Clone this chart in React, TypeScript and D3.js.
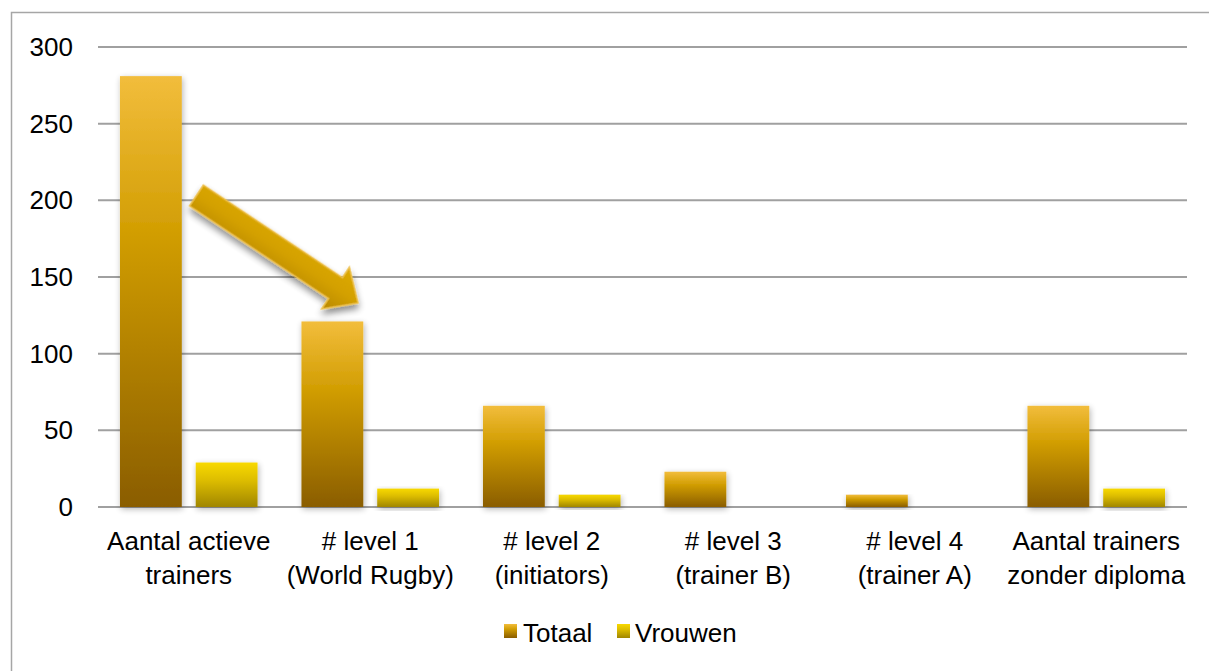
import React from "react";
import * as d3 from "d3";

// Trainer counts per qualification level
const categories: string[][] = [
  ["Aantal actieve", "trainers"],
  ["# level 1", "(World Rugby)"],
  ["# level 2", "(initiators)"],
  ["# level 3", "(trainer B)"],
  ["# level 4", "(trainer A)"],
  ["Aantal trainers", "zonder diploma"],
];
const seriesNames = ["Totaal", "Vrouwen"];
const totaal = [281, 121, 66, 23, 8, 66];
const vrouwen = [29, 12, 8, 0, 0, 12];
const yTicks = [0, 50, 100, 150, 200, 250, 300];

const W = 1209;
const H = 671;
const plot = { left: 98, right: 1187, top: 47, bottom: 507 };
const FONT = "'Liberation Sans', Arial, Helvetica, sans-serif";

export default function App() {
  const keys = categories.map((c) => c.join(" "));
  const x0 = d3.scaleBand<string>().domain(keys).range([plot.left, plot.right]).padding(0);
  const x1 = d3
    .scaleBand<string>()
    .domain(seriesNames)
    .range([0, x0.bandwidth()])
    .paddingInner(0.184)
    .paddingOuter(0.29);
  const y = d3.scaleLinear().domain([0, 300]).range([plot.bottom, plot.top]);

  const rows = keys.map((k, i) => ({ key: k, values: [totaal[i], vrouwen[i]] }));

  // Decorative block arrow pointing from the first bar down to the second group
  const arrowTail: [number, number] = [196.5, 195.5];
  const arrowTip: [number, number] = [358, 303];
  const dx = arrowTip[0] - arrowTail[0];
  const dy = arrowTip[1] - arrowTail[1];
  const len = Math.hypot(dx, dy);
  const ang = (Math.atan2(dy, dx) * 180) / Math.PI;
  const shaft = 12.5;
  const headHalf = 25;
  const headLen = 27;
  const arrowPath = d3.path();
  arrowPath.moveTo(0, -shaft);
  arrowPath.lineTo(len - headLen, -shaft);
  arrowPath.lineTo(len - headLen, -headHalf);
  arrowPath.lineTo(len, 0);
  arrowPath.lineTo(len - headLen, headHalf);
  arrowPath.lineTo(len - headLen, shaft);
  arrowPath.lineTo(0, shaft);
  arrowPath.closePath();

  return (
    <svg
      width={W}
      height={H}
      style={{ position: "absolute", left: 0, top: 0, display: "block", background: "#fff" }}
      fontFamily={FONT}
    >
      <defs>
        <linearGradient id="gTotaal" x1="0" y1="0" x2="0" y2="1">
          <stop offset="0" stopColor="#F2BD3C" />
          <stop offset="0.35" stopColor="#D39F05" />
          <stop offset="1" stopColor="#8A5D00" />
        </linearGradient>
        <linearGradient id="gVrouwen" x1="0" y1="0" x2="0" y2="1">
          <stop offset="0" stopColor="#F8D900" />
          <stop offset="0.4" stopColor="#DDBD00" />
          <stop offset="1" stopColor="#A08600" />
        </linearGradient>
        <linearGradient id="gArrow" x1="0" y1="0" x2="0" y2="1">
          <stop offset="0" stopColor="#DDAA08" />
          <stop offset="0.5" stopColor="#D3A000" />
          <stop offset="1" stopColor="#B88800" />
        </linearGradient>
        <filter id="barShadow" x="-20%" y="-20%" width="140%" height="140%">
          <feGaussianBlur in="SourceAlpha" stdDeviation="3" />
          <feOffset dx="1" dy="2" result="b" />
          <feComponentTransfer>
            <feFuncA type="linear" slope="0.3" />
          </feComponentTransfer>
          <feMerge>
            <feMergeNode />
            <feMergeNode in="SourceGraphic" />
          </feMerge>
        </filter>
        <filter id="arrowShadow" x="-20%" y="-40%" width="140%" height="180%">
          <feGaussianBlur in="SourceAlpha" stdDeviation="3.5" />
          <feOffset dx="3" dy="4" result="b" />
          <feComponentTransfer>
            <feFuncA type="linear" slope="0.45" />
          </feComponentTransfer>
          <feMerge>
            <feMergeNode />
            <feMergeNode in="SourceGraphic" />
          </feMerge>
        </filter>
      </defs>

      {/* chart frame */}
      <path d={`M11.5,${H} L11.5,12.5 L${W},12.5`} fill="none" stroke="#a6a6a6" strokeWidth={1.5} />

      {/* gridlines */}
      {yTicks.map((t) => (
        <line
          key={t}
          x1={plot.left}
          x2={plot.right}
          y1={y(t)}
          y2={y(t)}
          stroke="#a0a0a0"
          strokeWidth={2}
        />
      ))}

      {/* y tick labels */}
      {yTicks.map((t) => (
        <text key={t} x={73} y={y(t)} dy="0.35em" textAnchor="end" fontSize={26} fill="#000">
          {t}
        </text>
      ))}

      {/* bars */}
      {rows.map((r) => (
        <g key={r.key} transform={`translate(${x0(r.key)},0)`}>
          {r.values.map((v, j) =>
            v > 0 ? (
              <rect
                key={seriesNames[j]}
                x={x1(seriesNames[j])}
                y={y(v)}
                width={x1.bandwidth()}
                height={y(0) - y(v)}
                fill={j === 0 ? "url(#gTotaal)" : "url(#gVrouwen)"}
                filter="url(#barShadow)"
              />
            ) : null
          )}
        </g>
      ))}

      {/* category labels */}
      {categories.map((lines, i) => (
        <text
          key={keys[i]}
          x={(x0(keys[i]) as number) + x0.bandwidth() / 2}
          y={550}
          textAnchor="middle"
          fontSize={26}
          fill="#000"
        >
          {lines.map((ln, k) => (
            <tspan key={k} x={(x0(keys[i]) as number) + x0.bandwidth() / 2} dy={k === 0 ? 0 : 34}>
              {ln}
            </tspan>
          ))}
        </text>
      ))}

      {/* arrow */}
      <g transform={`translate(${arrowTail[0]},${arrowTail[1]}) rotate(${ang})`} filter="url(#arrowShadow)">
        <path d={arrowPath.toString()} fill="url(#gArrow)" stroke="#EDC04A" strokeWidth={1.5} strokeLinejoin="miter" />
      </g>

      {/* legend */}
      <g>
        <rect x={504} y={624} width={13} height={14} fill="url(#gTotaal)" />
        <text x={523} y={642} fontSize={26} fill="#000" style={{ fontKerning: "normal" }}>
          Totaal
        </text>
        <rect x={617} y={624} width={13} height={14} fill="url(#gVrouwen)" />
        <text x={635} y={642} fontSize={26} fill="#000">
          Vrouwen
        </text>
      </g>
    </svg>
  );
}
